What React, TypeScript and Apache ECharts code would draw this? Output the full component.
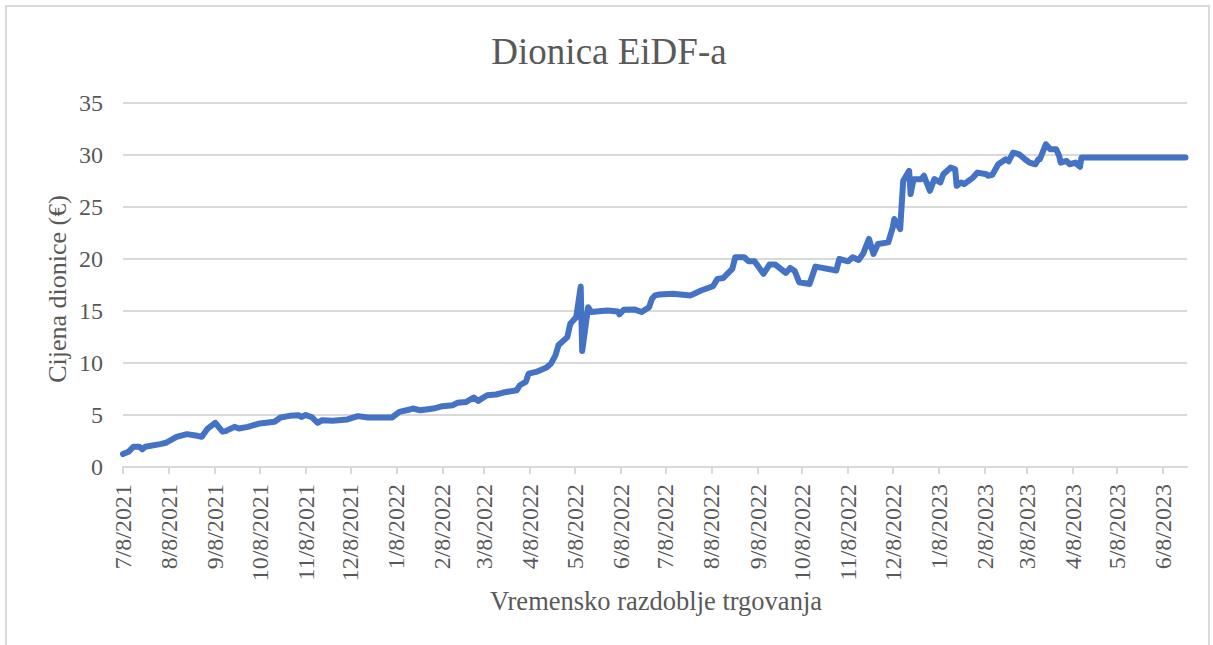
import React, { useEffect, useRef } from "react";
import * as echarts from "echarts";

const chartTitle = "Dionica EiDF-a";
const xAxisTitle = "Vremensko razdoblje trgovanja";
const yAxisTitle = "Cijena dionice (€)";

const dates = [
  "2021-07-08", "2021-07-12", "2021-07-15", "2021-07-19", "2021-07-21", "2021-07-23",
  "2021-08-02", "2021-08-06", "2021-08-13", "2021-08-20", "2021-08-27", "2021-08-30",
  "2021-09-03", "2021-09-08", "2021-09-13", "2021-09-15", "2021-09-21", "2021-09-24",
  "2021-09-30", "2021-10-08", "2021-10-18", "2021-10-22", "2021-10-28", "2021-11-03",
  "2021-11-05", "2021-11-08", "2021-11-10", "2021-11-12", "2021-11-16", "2021-11-19",
  "2021-11-26", "2021-12-06", "2021-12-13", "2021-12-20", "2021-12-28", "2022-01-05",
  "2022-01-10", "2022-01-17", "2022-01-19", "2022-01-24", "2022-02-02", "2022-02-08",
  "2022-02-15", "2022-02-18", "2022-02-24", "2022-03-01", "2022-03-04", "2022-03-10",
  "2022-03-16", "2022-03-21", "2022-03-30", "2022-04-01", "2022-04-05", "2022-04-07",
  "2022-04-12", "2022-04-19", "2022-04-22", "2022-04-25", "2022-04-27", "2022-05-03",
  "2022-05-05", "2022-05-09", "2022-05-12", "2022-05-13", "2022-05-17", "2022-05-19",
  "2022-05-30", "2022-06-06", "2022-06-07", "2022-06-10", "2022-06-17", "2022-06-22",
  "2022-06-27", "2022-06-29", "2022-07-01", "2022-07-04", "2022-07-13", "2022-07-25",
  "2022-08-01", "2022-08-09", "2022-08-12", "2022-08-16", "2022-08-22", "2022-08-24",
  "2022-08-30", "2022-09-02", "2022-09-06", "2022-09-12", "2022-09-16", "2022-09-20",
  "2022-09-27", "2022-09-30", "2022-10-03", "2022-10-06", "2022-10-13", "2022-10-17",
  "2022-10-31", "2022-11-02", "2022-11-08", "2022-11-11", "2022-11-15", "2022-11-18",
  "2022-11-22", "2022-11-25", "2022-11-28", "2022-12-05", "2022-12-08", "2022-12-09",
  "2022-12-13", "2022-12-15", "2022-12-19", "2022-12-20", "2022-12-22", "2022-12-27",
  "2022-12-29", "2023-01-02", "2023-01-05", "2023-01-09", "2023-01-11", "2023-01-16",
  "2023-01-19", "2023-01-20", "2023-01-23", "2023-01-25", "2023-01-31", "2023-02-03",
  "2023-02-09", "2023-02-10", "2023-02-13", "2023-02-17", "2023-02-22", "2023-02-24",
  "2023-02-27", "2023-03-03", "2023-03-07", "2023-03-10", "2023-03-14", "2023-03-16",
  "2023-03-17", "2023-03-21", "2023-03-24", "2023-03-28", "2023-03-30", "2023-03-31",
  "2023-04-04", "2023-04-06", "2023-04-10", "2023-04-11", "2023-04-13", "2023-04-14",
  "2023-05-02", "2023-05-22", "2023-06-09", "2023-06-23",
];

const prices = [
  1.25, 1.5, 1.95, 1.95, 1.7, 1.95,
  2.2, 2.33, 2.9, 3.16, 3.0, 2.9,
  3.7, 4.25, 3.4, 3.45, 3.86, 3.7,
  3.86, 4.19, 4.35, 4.76, 4.92, 4.98,
  4.82, 5.0, 4.89, 4.8, 4.25, 4.5,
  4.44, 4.57, 4.89, 4.76, 4.76, 4.76,
  5.3, 5.53, 5.62, 5.46, 5.62, 5.85,
  5.94, 6.17, 6.26, 6.68, 6.36, 6.9,
  6.97, 7.16, 7.38, 7.86, 8.18, 8.98,
  9.14, 9.56, 9.94, 10.74, 11.7, 12.49,
  13.78, 14.41, 17.35, 11.15, 15.37, 14.9,
  15.05, 14.95, 14.67, 15.12, 15.15, 14.9,
  15.37, 16.17, 16.5, 16.59, 16.65, 16.5,
  16.97, 17.38, 18.09, 18.18, 19.04, 20.17,
  20.17, 19.78, 19.78, 18.57, 19.46, 19.46,
  18.66, 19.14, 18.85, 17.77, 17.6, 19.27,
  18.89, 20.0, 19.78, 20.17, 19.9, 20.5,
  21.93, 20.49, 21.45, 21.6, 23.04, 23.84,
  22.88, 27.5, 28.48, 26.24, 27.68, 27.68,
  28.0, 26.56, 27.68, 27.36, 28.15, 28.79,
  28.63, 27.04, 27.36, 27.2, 27.83, 28.31,
  28.15, 28.0, 28.1, 29.11, 29.59, 29.4,
  30.23, 30.07, 29.59, 29.27, 29.11, 29.59,
  29.59, 31.03, 30.55, 30.55, 29.9, 29.27,
  29.43, 29.11, 29.27, 29.11, 28.86, 29.75,
  29.75, 29.75, 29.75, 29.75,
];

const xTickDates = [
  "2021-07-08", "2021-08-08", "2021-09-08", "2021-10-08", "2021-11-08", "2021-12-08",
  "2022-01-08", "2022-02-08", "2022-03-08", "2022-04-08", "2022-05-08", "2022-06-08",
  "2022-07-08", "2022-08-08", "2022-09-08", "2022-10-08", "2022-11-08", "2022-12-08",
  "2023-01-08", "2023-02-08", "2023-03-08", "2023-04-08", "2023-05-08", "2023-06-08",
];

const xMinDate = "2021-07-08";
const xMaxDate = "2023-06-24";
const yMin = 0;
const yMax = 35;
const yInterval = 5;

// day number since epoch (UTC) for an ISO date string
function toDay(s: string): number {
  const [y, m, d] = s.split("-").map(Number);
  return Math.round(Date.UTC(y, m - 1, d) / 86400000);
}

function dayLabel(v: number): string {
  const d = new Date(Math.round(v) * 86400000);
  return `${d.getUTCMonth() + 1}/${d.getUTCDate()}/${d.getUTCFullYear()}`;
}

const FONT = "'Liberation Serif', 'Times New Roman', serif";
const TEXT = "#595959";
const GRID = "#d9d9d9";

export default function App() {
  const ref = useRef<HTMLDivElement>(null);
  useEffect(() => {
    if (!ref.current) return;
    const chart = echarts.init(ref.current, undefined, { renderer: "svg" });
    const tickDays = xTickDates.map(toDay);
    chart.setOption({
      animation: false,
      backgroundColor: "#ffffff",
      grid: { left: 123, right: 26, top: 103, bottom: 178, containLabel: false },
      graphic: [
        {
          type: "rect",
          shape: { x: 6, y: 6, width: 1203, height: 700 },
          style: { fill: "none", stroke: GRID, lineWidth: 2 },
          silent: true,
        },
        {
          type: "text",
          x: 609,
          y: 51,
          style: {
            text: chartTitle,
            font: `37px ${FONT}`,
            fill: TEXT,
            textAlign: "center",
            textVerticalAlign: "middle",
          },
        },
        {
          type: "text",
          x: 656,
          y: 601,
          style: {
            text: xAxisTitle,
            font: `26.5px ${FONT}`,
            fill: TEXT,
            textAlign: "center",
            textVerticalAlign: "middle",
          },
        },
        {
          type: "text",
          x: 57,
          y: 289,
          rotation: Math.PI / 2,
          style: {
            text: yAxisTitle,
            font: `26px ${FONT}`,
            fill: TEXT,
            textAlign: "center",
            textVerticalAlign: "middle",
          },
        },
      ],
      xAxis: {
        type: "value",
        min: toDay(xMinDate),
        max: toDay(xMaxDate),
        axisLine: { show: true, lineStyle: { color: GRID, width: 2 } },
        axisTick: {
          show: true,
          length: 7,
          inside: false,
          customValues: tickDays,
          lineStyle: { color: GRID, width: 2 },
        },
        axisLabel: {
          customValues: tickDays,
          rotate: 90,
          margin: 17,
          fontSize: 24,
          fontFamily: FONT,
          color: TEXT,
          showMinLabel: true,
          showMaxLabel: true,
          formatter: (v: number) => dayLabel(v),
        },
        splitLine: { show: false },
      },
      yAxis: {
        type: "value",
        min: yMin,
        max: yMax,
        interval: yInterval,
        axisLine: { show: false },
        axisTick: { show: false },
        axisLabel: { margin: 20, fontSize: 24, fontFamily: FONT, color: TEXT },
        splitLine: { show: true, lineStyle: { color: GRID, width: 2 } },
      },
      series: [
        {
          type: "line",
          data: dates.map((d, i) => [toDay(d), prices[i]]),
          showSymbol: false,
          symbol: "none",
          lineStyle: { color: "#4472C4", width: 6, join: "round", cap: "round" },
          z: 3,
        },
      ],
    });
    return () => chart.dispose();
  }, []);
  return (
    <div
      ref={ref}
      style={{ position: "absolute", left: 0, top: 0, width: 1213, height: 645 }}
    />
  );
}
